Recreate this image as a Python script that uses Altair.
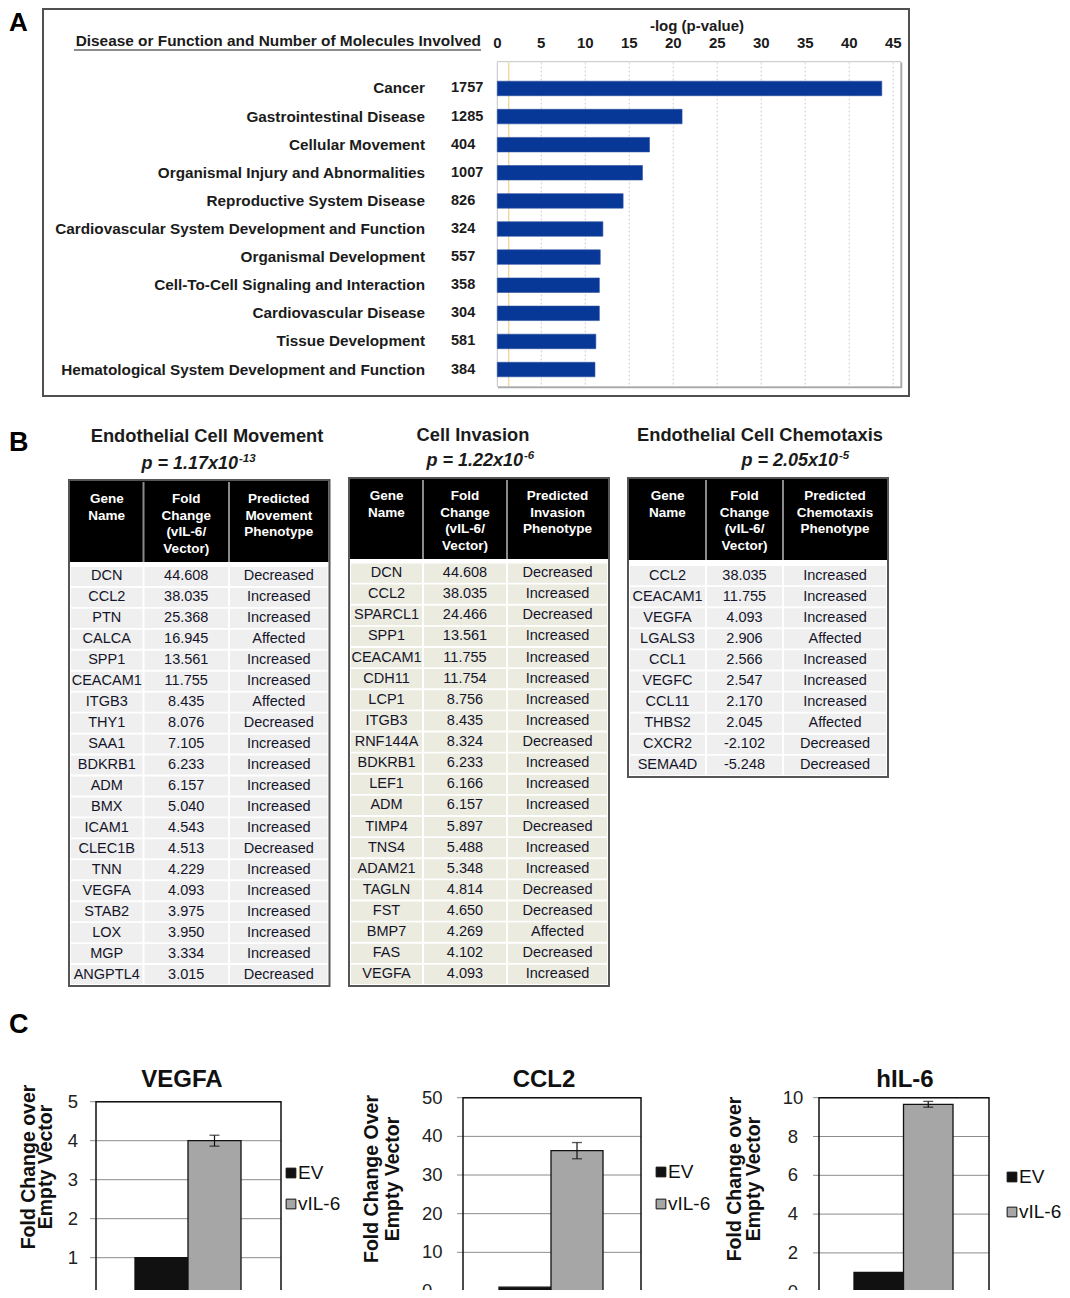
import altair as alt
import pandas as pd

FONT = "Liberation Sans"
OX, OY = 8, 8


def px(v):
    return v - OX


def py(v):
    return v - OY


ONE = pd.DataFrame({"k": [0]})

# ---------------- data ----------------
# Panel A
a_categories = [
    "Cancer", "Gastrointestinal Disease", "Cellular Movement",
    "Organismal Injury and Abnormalities", "Reproductive System Disease",
    "Cardiovascular System Development and Function", "Organismal Development",
    "Cell-To-Cell Signaling and Interaction", "Cardiovascular Disease",
    "Tissue Development", "Hematological System Development and Function",
]
a_molecules = [1757, 1285, 404, 1007, 826, 324, 557, 358, 304, 581, 384]
a_neglogp = [43.7, 21.0, 17.3, 16.5, 14.3, 12.0, 11.7, 11.6, 11.6, 11.2, 11.1]
a_ticks = [0, 5, 10, 15, 20, 25, 30, 35, 40, 45]
a_threshold = [1.3]

# Panel B
t1_genes = ["DCN", "CCL2", "PTN", "CALCA", "SPP1", "CEACAM1", "ITGB3", "THY1", "SAA1", "BDKRB1",
            "ADM", "BMX", "ICAM1", "CLEC1B", "TNN", "VEGFA", "STAB2", "LOX", "MGP", "ANGPTL4"]
t1_fold = [44.608, 38.035, 25.368, 16.945, 13.561, 11.755, 8.435, 8.076, 7.105, 6.233,
           6.157, 5.040, 4.543, 4.513, 4.229, 4.093, 3.975, 3.950, 3.334, 3.015]
t1_pheno = ["Decreased", "Increased", "Increased", "Affected", "Increased", "Increased", "Affected",
            "Decreased", "Increased", "Increased", "Increased", "Increased", "Increased", "Decreased",
            "Increased", "Increased", "Increased", "Increased", "Increased", "Decreased"]

t2_genes = ["DCN", "CCL2", "SPARCL1", "SPP1", "CEACAM1", "CDH11", "LCP1", "ITGB3", "RNF144A", "BDKRB1",
            "LEF1", "ADM", "TIMP4", "TNS4", "ADAM21", "TAGLN", "FST", "BMP7", "FAS", "VEGFA"]
t2_fold = [44.608, 38.035, 24.466, 13.561, 11.755, 11.754, 8.756, 8.435, 8.324, 6.233,
           6.166, 6.157, 5.897, 5.488, 5.348, 4.814, 4.650, 4.269, 4.102, 4.093]
t2_pheno = ["Decreased", "Increased", "Decreased", "Increased", "Increased", "Increased", "Increased",
            "Increased", "Decreased", "Increased", "Increased", "Increased", "Decreased", "Increased",
            "Increased", "Decreased", "Decreased", "Affected", "Decreased", "Increased"]

t3_genes = ["CCL2", "CEACAM1", "VEGFA", "LGALS3", "CCL1", "VEGFC", "CCL11", "THBS2", "CXCR2", "SEMA4D"]
t3_fold = [38.035, 11.755, 4.093, 2.906, 2.566, 2.547, 2.170, 2.045, -2.102, -5.248]
t3_pheno = ["Increased", "Increased", "Increased", "Affected", "Increased", "Increased", "Increased",
            "Affected", "Decreased", "Decreased"]

t_titles = ["Endothelial Cell Movement", "Cell Invasion", "Endothelial Cell Chemotaxis"]
t_pmant = ["1.17", "1.22", "2.05"]
t_pexp = ["-13", "-6", "-5"]
t_phen_words = ["Movement", "Invasion", "Chemotaxis"]

# Panel C
c_groups = ["EV", "vIL-6"]
c_genes = ["VEGFA", "CCL2", "hIL-6"]
c_values = [[1.0, 4.0], [1.0, 36.3], [1.0, 9.66]]
c_errors = [[0.0, 0.14], [0.0, 2.1], [0.0, 0.15]]
c_ticks = [[0, 1, 2, 3, 4, 5], [0, 10, 20, 30, 40, 50], [0, 2, 4, 6, 8, 10]]
c_ylabels = [["Fold Change over", "Empty Vector"],
             ["Fold Change Over", "Empty Vector"],
             ["Fold Change over", "Empty Vector"]]

# ---------------- helpers ----------------
layers = []


def vrect(x0, x1, y0, y1, **kw):
    return alt.Chart(ONE).mark_rect(**kw).encode(
        x=alt.value(px(x0)), x2=alt.value(px(x1)),
        y=alt.value(py(y0)), y2=alt.value(py(y1)))


def hrule(x0, x1, y, **kw):
    return alt.Chart(ONE).mark_rule(**kw).encode(
        x=alt.value(px(x0)), x2=alt.value(px(x1)), y=alt.value(py(y)))


def vrule(x, y0, y1, **kw):
    return alt.Chart(ONE).mark_rule(**kw).encode(
        x=alt.value(px(x)), y=alt.value(py(y0)), y2=alt.value(py(y1)))


def label(txt, x, y, **kw):
    df = pd.DataFrame({"t": [txt]})
    return alt.Chart(df).mark_text(**kw).encode(
        x=alt.value(px(x)), y=alt.value(py(y)), text="t:N")


DARK = "#1b1b1b"

# ---------------- Panel A ----------------
layers.append(label("A", 9, 31, fontSize=26, fontWeight="bold", align="left", baseline="alphabetic", color="#000"))
layers.append(vrect(43, 909, 9, 396, fillOpacity=0, stroke="#505050", strokeWidth=2))

A_X = alt.Scale(domain=[0, 45.85], range=[px(497.3), px(900.7)], nice=False, zero=False)
A_Y = alt.Scale(type="band", domain=a_categories, range=[py(74.4), py(383.6)],
                paddingInner=0.484, paddingOuter=0.242)

dfA = pd.DataFrame({"cat": a_categories, "n": a_molecules, "p": a_neglogp})
dfT = pd.DataFrame({"t": a_ticks})
dfG = pd.DataFrame({"t": a_ticks[1:]})
dfTh = pd.DataFrame({"t": a_threshold})

# plot frame
layers.append(vrect(497.3, 900.7, 61.7, 386.7, color="white", stroke="#c4c4c4", strokeWidth=1))
layers.append(vrule(901.5, 62.5, 388, color="#a8a8a8", strokeWidth=1.5))
layers.append(hrule(498, 901.5, 387.6, color="#a8a8a8", strokeWidth=1.5))
# gridlines
layers.append(alt.Chart(dfG).mark_rule(color="#cfcfcf", strokeDash=[2, 2], strokeWidth=1).encode(
    x=alt.X("t:Q", scale=A_X, axis=None), y=alt.value(py(62.5)), y2=alt.value(py(386))))
layers.append(alt.Chart(dfTh).mark_rule(color="#f2d08c", strokeWidth=1.2).encode(
    x=alt.X("t:Q", scale=A_X, axis=None), y=alt.value(py(62.5)), y2=alt.value(py(386))))
# bars
layers.append(alt.Chart(dfA).mark_bar(color="#073897", stroke="#2d4f9e", strokeWidth=0.6).encode(
    x=alt.X("p:Q", scale=A_X, axis=None), y=alt.Y("cat:N", scale=A_Y, axis=None)))
# category labels and counts
layers.append(alt.Chart(dfA).mark_text(align="right", baseline="middle", fontSize=15.3,
                                       fontWeight="bold", color=DARK).encode(
    x=alt.value(px(425)), y=alt.Y("cat:N", scale=A_Y, axis=None), text="cat:N"))
layers.append(alt.Chart(dfA).mark_text(align="left", baseline="middle", fontSize=14.5,
                                       fontWeight="bold", color=DARK).encode(
    x=alt.value(px(451)), y=alt.Y("cat:N", scale=A_Y, axis=None), text="n:Q"))
# tick labels
layers.append(alt.Chart(dfT).mark_text(align="center", baseline="middle", fontSize=15,
                                       fontWeight="bold", color=DARK).encode(
    x=alt.X("t:Q", scale=A_X, axis=None), y=alt.value(py(43)), text="t:Q"))
layers.append(label("-log (p-value)", 697, 26, fontSize=15, fontWeight="bold", align="center",
                    baseline="middle", color=DARK))
layers.append(label("Disease or Function and Number of Molecules Involved", 481, 41,
                    fontSize=15.4, fontWeight="bold", align="right", baseline="middle", color=DARK))
layers.append(hrule(74, 481, 50, color=DARK, strokeWidth=1.2))

# ---------------- Panel B ----------------
layers.append(label("B", 9, 443, fontSize=27, fontWeight="bold", align="left", baseline="middle", color="#000"))


def table(genes, folds, phenos, headers, cols, top, hbot, btop, bbot, bg, hfirst):
    n = len(genes)
    df = pd.DataFrame({"row": list(range(n)), "gene": genes, "fold": folds, "pheno": phenos})
    ysc = alt.Scale(type="band", domain=list(range(n)), range=[py(btop), py(bbot)],
                    paddingInner=0.09, paddingOuter=0.045)
    Y = alt.Y("row:O", scale=ysc, axis=None)
    out = [vrect(cols[0], cols[3], top, hbot, color="#000000")]
    for c in (cols[1], cols[2]):
        out.append(vrule(c, top + 1, hbot, color="#8a8a8a", strokeWidth=2))
    for j in range(3):
        cx = (cols[j] + cols[j + 1]) / 2
        out.append(label(headers[j], cx, hfirst, color="white", fontWeight="bold", fontSize=13.5,
                         lineBreak="\n", lineHeight=16.5, align="center", baseline="alphabetic"))
    for j in range(3):
        out.append(alt.Chart(df).mark_rect(color=bg).encode(
            x=alt.value(px(cols[j]) + 1), x2=alt.value(px(cols[j + 1]) - 1), y=Y))
    for j, f in enumerate(["gene:N", "ft:N", "pheno:N"]):
        cx = (cols[j] + cols[j + 1]) / 2
        out.append(alt.Chart(df).transform_calculate(
            ft="replace(format(datum.fold, '.3f'), '\u2212', '-')"
        ).mark_text(fontSize=14.5, color="#15152a", baseline="middle").encode(
            x=alt.value(px(cx)), y=Y, text=f))
    out.append(vrect(cols[0] - 1, cols[3] + 1, top - 1, bbot + 1, fillOpacity=0,
                     stroke="#555555", strokeWidth=2))
    return out


tables = [
    dict(genes=t1_genes, folds=t1_fold, phenos=t1_pheno, cols=[70, 143.5, 229, 328.5],
         top=481, hbot=562, btop=566, bbot=985, bg="#efefef", hfirst=503,
         title_x=207, title_y=437, p_end=238, p_y=469),
    dict(genes=t2_genes, folds=t2_fold, phenos=t2_pheno, cols=[350, 423, 507, 608],
         top=479, hbot=559, btop=562.5, bbot=985, bg="#ecebe0", hfirst=500,
         title_x=473, title_y=436, p_end=523, p_y=466),
    dict(genes=t3_genes, folds=t3_fold, phenos=t3_pheno, cols=[629, 706, 783, 887],
         top=479, hbot=560, btop=565, bbot=776, bg="#efefef", hfirst=500,
         title_x=760, title_y=436, p_end=838, p_y=466),
]
for i, t in enumerate(tables):
    headers = ["Gene\nName", "Fold\nChange\n(vIL-6/\nVector)", "Predicted\n" + t_phen_words[i] + "\nPhenotype"]
    layers += table(t["genes"], t["folds"], t["phenos"], headers, t["cols"], t["top"], t["hbot"],
                    t["btop"], t["bbot"], t["bg"], t["hfirst"])
    layers.append(label(t_titles[i], t["title_x"], t["title_y"], fontSize=18.3, fontWeight="bold",
                        align="center", baseline="middle", color=DARK))
    layers.append(label("p = " + t_pmant[i] + "x10", t["p_end"], t["p_y"], fontSize=18,
                        fontWeight="bold", fontStyle="italic", align="right", baseline="alphabetic",
                        color=DARK))
    layers.append(label(t_pexp[i], t["p_end"] + 1, t["p_y"] - 7, fontSize=11.5,
                        fontWeight="bold", fontStyle="italic", align="left", baseline="alphabetic",
                        color=DARK))

# ---------------- Panel C ----------------
layers.append(label("C", 9, 1025, fontSize=27, fontWeight="bold", align="left", baseline="middle", color="#000"))

charts = [
    dict(frame=(96, 281, 1101.7, 1296.7), bands=(135, 241), tick_x=73, tick_align="center",
         title_x=182, ytx=(28.5, 46), yty=1167, leg_x=291, leg_y=(1173, 1204)),
    dict(frame=(463, 641, 1097.7, 1291), bands=(499, 603), tick_x=422, tick_align="left",
         title_x=544, ytx=(371.5, 393), yty=1179, leg_x=661, leg_y=(1172, 1204)),
    dict(frame=(819, 989, 1097.7, 1291.7), bands=(854, 953), tick_x=793, tick_align="center",
         title_x=905, ytx=(735, 754), yty=1179, leg_x=1012, leg_y=(1177, 1212)),
]
COLOR = alt.Color("group:N", scale=alt.Scale(domain=c_groups, range=["#111111", "#a6a6a6"]), legend=None)

for i, c in enumerate(charts):
    x0, x1, ytop, ybot = c["frame"]
    ticks = c_ticks[i]
    ysc = alt.Scale(domain=[0, ticks[-1]], range=[py(ybot), py(ytop)], nice=False, zero=True)
    xsc = alt.Scale(type="band", domain=c_groups, range=[px(c["bands"][0]), px(c["bands"][1])],
                    paddingInner=0, paddingOuter=0)
    vals, errs = c_values[i], c_errors[i]
    df = pd.DataFrame({"group": c_groups, "value": vals, "err": errs,
                       "lo": [v - e for v, e in zip(vals, errs)],
                       "hi": [v + e for v, e in zip(vals, errs)]})
    edf = df[df["err"] > 0]
    tdf = pd.DataFrame({"v": ticks})
    X = alt.X("group:N", scale=xsc, axis=None)

    layers.append(alt.Chart(tdf).mark_rule(color="#8c8c8c", strokeWidth=1).encode(
        y=alt.Y("v:Q", scale=ysc, axis=None), x=alt.value(px(x0 - 6)), x2=alt.value(px(x1))))
    layers.append(alt.Chart(tdf).mark_text(fontSize=18.5, align=c["tick_align"], baseline="middle",
                                           color="#222222").encode(
        y=alt.Y("v:Q", scale=ysc, axis=None), x=alt.value(px(c["tick_x"])), text="v:Q"))
    layers.append(vrect(x0, x1, ytop, ybot, fillOpacity=0, stroke="#111111", strokeWidth=1.5))
    layers.append(alt.Chart(df).mark_bar(stroke="#111111", strokeWidth=1.3).encode(
        x=X, y=alt.Y("value:Q", scale=ysc, axis=None), color=COLOR))
    layers.append(alt.Chart(edf).mark_rule(color="#111111", strokeWidth=1.2).encode(
        x=X, y=alt.Y("lo:Q", scale=ysc, axis=None), y2="hi:Q"))
    for f in ("lo", "hi"):
        layers.append(alt.Chart(edf).mark_tick(color="#111111", size=10, thickness=1.3).encode(
            x=X, y=alt.Y(f + ":Q", scale=ysc, axis=None)))
    # title
    layers.append(label(c_genes[i], c["title_x"], 1080, fontSize=24, fontWeight="bold",
                        align="center", baseline="middle", color="#111111"))
    # y titles
    for k in range(2):
        layers.append(label(c_ylabels[i][k], c["ytx"][k], c["yty"], fontSize=19.5, fontWeight="bold",
                            angle=270, align="center", baseline="middle", color="#111111"))
    # legend
    lsc = alt.Scale(type="point", domain=c_groups, range=[py(c["leg_y"][0]), py(c["leg_y"][1])], padding=0)
    LY = alt.Y("group:N", scale=lsc, axis=None)
    layers.append(alt.Chart(df).mark_square(size=95, opacity=1, stroke="#111111", strokeWidth=1).encode(
        x=alt.value(px(c["leg_x"])), y=LY, color=COLOR))
    layers.append(alt.Chart(df).mark_text(fontSize=19, align="left", baseline="middle",
                                          color="#111111").encode(
        x=alt.value(px(c["leg_x"] + 7)), y=LY, text="group:N"))

chart = alt.layer(*layers).properties(
    width=1054, height=1282, padding=0,
    autosize=alt.AutoSizeParams(type="none"), background="white",
).resolve_scale(x="independent", y="independent").configure(font=FONT).configure_view(strokeWidth=0)

chart.save("out.html", embed_options={"renderer": "svg", "actions": False})
